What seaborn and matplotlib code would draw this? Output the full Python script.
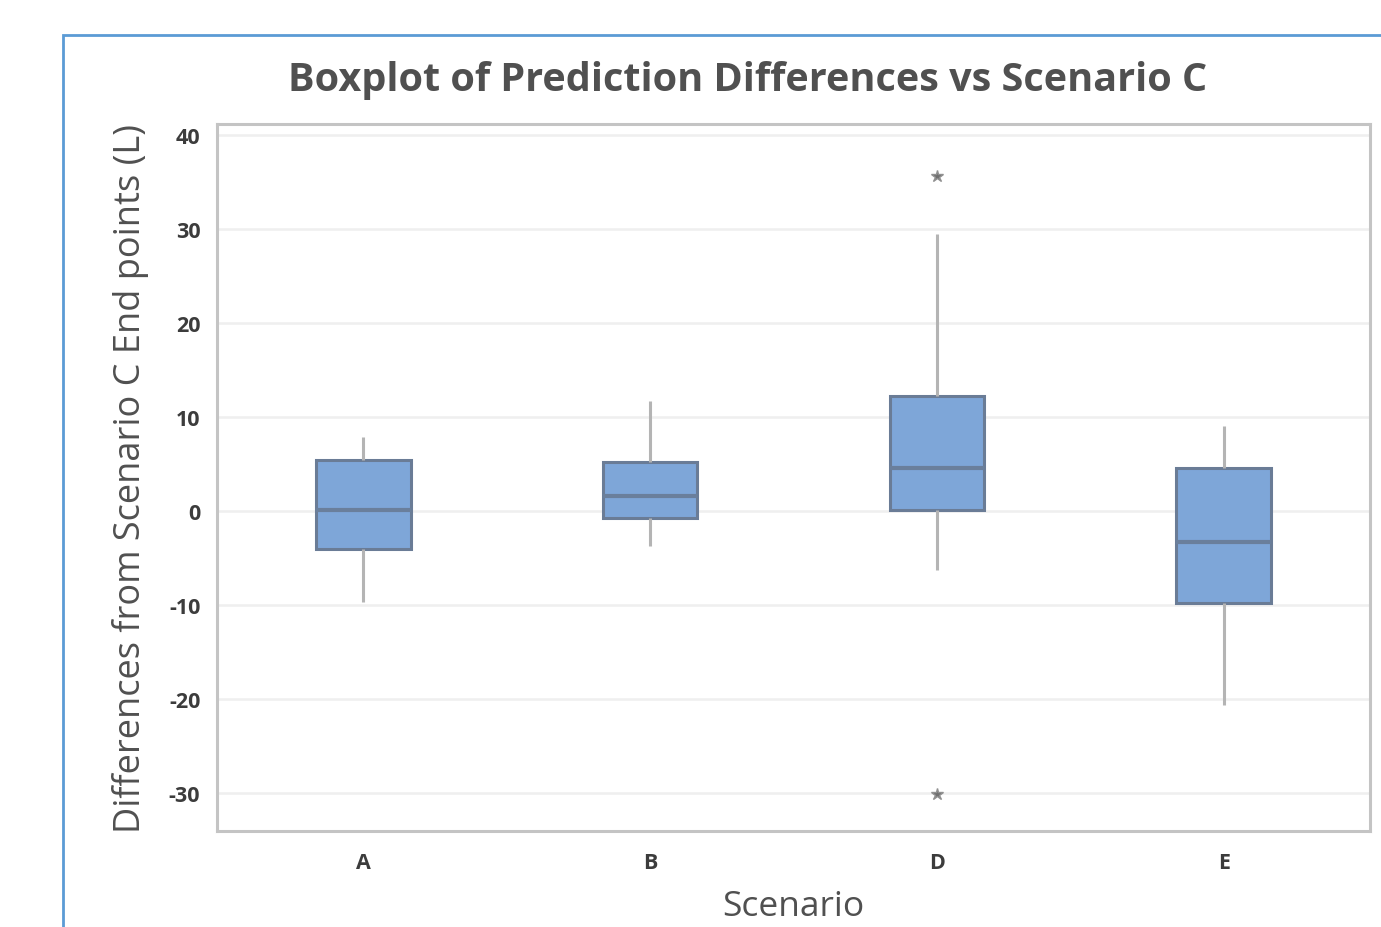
import matplotlib
matplotlib.use("Agg")
import matplotlib.pyplot as plt
import seaborn as sns
import pandas as pd
from matplotlib.patches import Rectangle

# Data (five-number summaries plus outliers)
scenarios = ["A", "B", "D", "E"]
whisker_low = [-9.6, -3.7, -6.2, -20.6]
q1 = [-4.0, -0.7, 0.1, -9.7]
median = [0.1, 1.6, 4.6, -3.3]
q3 = [5.5, 5.2, 12.3, 4.6]
whisker_high = [7.9, 11.7, 29.5, 9.1]
outliers_low = [None, None, -30.1, None]
outliers_high = [None, None, 35.7, None]
y_ticks = [-30, -20, -10, 0, 10, 20, 30, 40]

rows = []
for i, s in enumerate(scenarios):
    vals = [whisker_low[i], q1[i], q1[i], median[i], q3[i], q3[i], whisker_high[i]]
    if outliers_low[i] is not None:
        vals = [outliers_low[i]] + vals
    else:
        vals = [whisker_low[i]] + vals
    if outliers_high[i] is not None:
        vals = vals + [outliers_high[i]]
    else:
        vals = vals + [whisker_high[i]]
    for v in vals:
        rows.append({"Scenario": s, "Value": v})
df = pd.DataFrame(rows)

sns.set_style("white")
plt.rcParams["font.family"] = ["Open Sans", "DejaVu Sans"]

fig = plt.figure(figsize=(13.81, 9.28), dpi=100)
ax = fig.add_axes([217 / 1381, 1 - 832 / 928, (1370 - 217) / 1381, (832 - 125) / 928])

ax.set_axisbelow(True)
ax.grid(True, color="#efefef", linewidth=1.8)

sns.boxplot(
    data=df, x="Scenario", y="Value", order=scenarios, ax=ax,
    width=0.33, whis=1.5, showcaps=False,
    boxprops=dict(facecolor="#7ea6d8", edgecolor="#6a7c96", linewidth=2.2),
    medianprops=dict(color="#6a7f9c", linewidth=3),
    whiskerprops=dict(color="#b4b4b4", linewidth=2.2),
    flierprops=dict(marker="*", markersize=9, markerfacecolor="#707070",
                    markeredgecolor="#909090", linestyle="none"),
)

ax.set_xlim(-0.51, 3.51)
ax.set_ylim(-34.0, 41.2)
ax.set_yticks(y_ticks)
ax.set_yticklabels([str(t) for t in y_ticks])

for sp in ax.spines.values():
    sp.set_color("#c4c4c4")
    sp.set_linewidth(2.2)

ax.tick_params(axis="both", which="both", direction="out", length=5, width=1.5,
               color="#c4c4c4", labelsize=15.5, labelcolor="#3c3c3c", pad=7)
ax.tick_params(axis="x", pad=10)
for lbl in ax.get_xticklabels() + ax.get_yticklabels():
    lbl.set_fontweight("bold")

ax.set_xlabel("Scenario", fontsize=25.5, color="#505050", labelpad=12)
ax.set_ylabel("Differences from Scenario C End points (L)", fontsize=26,
              color="#505050", labelpad=14)
fig.text(747.5 / 1381, 1 - 80 / 928,
         "Boxplot of Prediction Differences vs Scenario C",
         ha="center", va="center", fontsize=28.5, fontweight="bold", color="#505050")

frame = Rectangle((63 / 1381, -0.05), 1.1, 1 - 36 / 928 + 0.05,
                  transform=fig.transFigure, fill=False,
                  edgecolor="#5b9bd5", linewidth=2, zorder=-1)
fig.patches.append(frame)

fig.savefig("out.png", dpi=100)
